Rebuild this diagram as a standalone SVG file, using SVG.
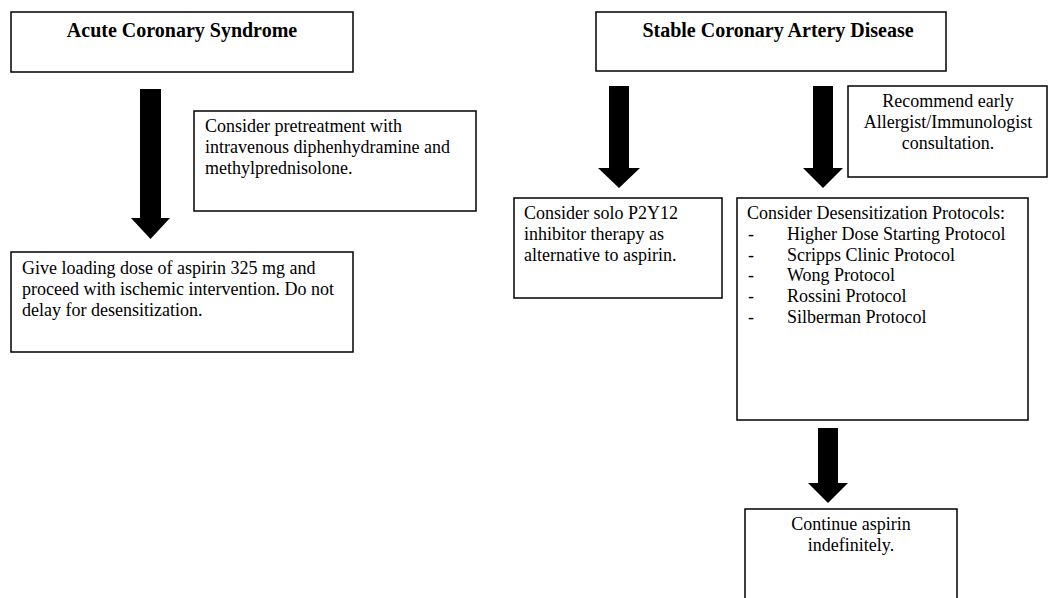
<svg xmlns="http://www.w3.org/2000/svg" width="1048" height="598" viewBox="0 0 1048 598">
<style>
.box{fill:#fff;stroke:#000;stroke-width:1.5}
.t{font-family:"Liberation Serif","Times New Roman",serif;font-size:18px;fill:#000}
.h{font-family:"Liberation Serif","Times New Roman",serif;font-size:20px;font-weight:bold;fill:#000}
.arr{fill:#000}
</style>
<rect width="1048" height="598" fill="#fff"/>
<g id="connectors">
<path class="arr" d="M140,89 H161 V218 H170 L150.5,239 L131,218 H140 Z"/>
<path class="arr" d="M609,86 H629 V168 H640 L619,188 L598,168 H609 Z"/>
<path class="arr" d="M813,86 H833 V168 H843 L823,188 L803,168 H813 Z"/>
<path class="arr" d="M818,428 H838 V483 H848 L828,503 L808,483 H818 Z"/>
</g>
<g id="acs">
<rect class="box" x="11" y="12" width="342" height="60"/>
<text class="h" x="182" y="37" text-anchor="middle">Acute Coronary Syndrome</text>
</g>
<g id="pretreat">
<rect class="box" x="194" y="111" width="282" height="100"/>
<text class="t" x="205" y="132">Consider pretreatment with</text>
<text class="t" x="205" y="153">intravenous diphenhydramine and</text>
<text class="t" x="205" y="174">methylprednisolone.</text>
</g>
<g id="loading">
<rect class="box" x="11" y="252" width="342" height="100"/>
<text class="t" x="22" y="274">Give loading dose of aspirin 325 mg and</text>
<text class="t" x="22" y="295">proceed with ischemic intervention. Do not</text>
<text class="t" x="22" y="316">delay for desensitization.</text>
</g>
<g id="stable">
<rect class="box" x="596" y="12" width="350" height="59"/>
<text class="h" x="778" y="37" text-anchor="middle">Stable Coronary Artery Disease</text>
</g>
<g id="allergist">
<rect class="box" x="848" y="86" width="199" height="91"/>
<text class="t" x="948" y="107" text-anchor="middle">Recommend early</text>
<text class="t" x="948" y="128" text-anchor="middle">Allergist/Immunologist</text>
<text class="t" x="948" y="149" text-anchor="middle">consultation.</text>
</g>
<g id="p2y12">
<rect class="box" x="514" y="198" width="208" height="100"/>
<text class="t" x="524" y="219">Consider solo P2Y12</text>
<text class="t" x="524" y="240">inhibitor therapy as</text>
<text class="t" x="524" y="261">alternative to aspirin.</text>
</g>
<g id="desens">
<rect class="box" x="737" y="198" width="291" height="222"/>
<text class="t" x="747" y="219">Consider Desensitization Protocols:</text>
<text class="t" x="748" y="240">-</text><text class="t" x="787" y="240">Higher Dose Starting Protocol</text>
<text class="t" x="748" y="261">-</text><text class="t" x="787" y="261">Scripps Clinic Protocol</text>
<text class="t" x="748" y="281">-</text><text class="t" x="787" y="281">Wong Protocol</text>
<text class="t" x="748" y="302">-</text><text class="t" x="787" y="302">Rossini Protocol</text>
<text class="t" x="748" y="323">-</text><text class="t" x="787" y="323">Silberman Protocol</text>
</g>
<g id="continue">
<rect class="box" x="745" y="509" width="212" height="100"/>
<text class="t" x="851" y="530" text-anchor="middle">Continue aspirin</text>
<text class="t" x="851" y="551" text-anchor="middle">indefinitely.</text>
</g>
</svg>
